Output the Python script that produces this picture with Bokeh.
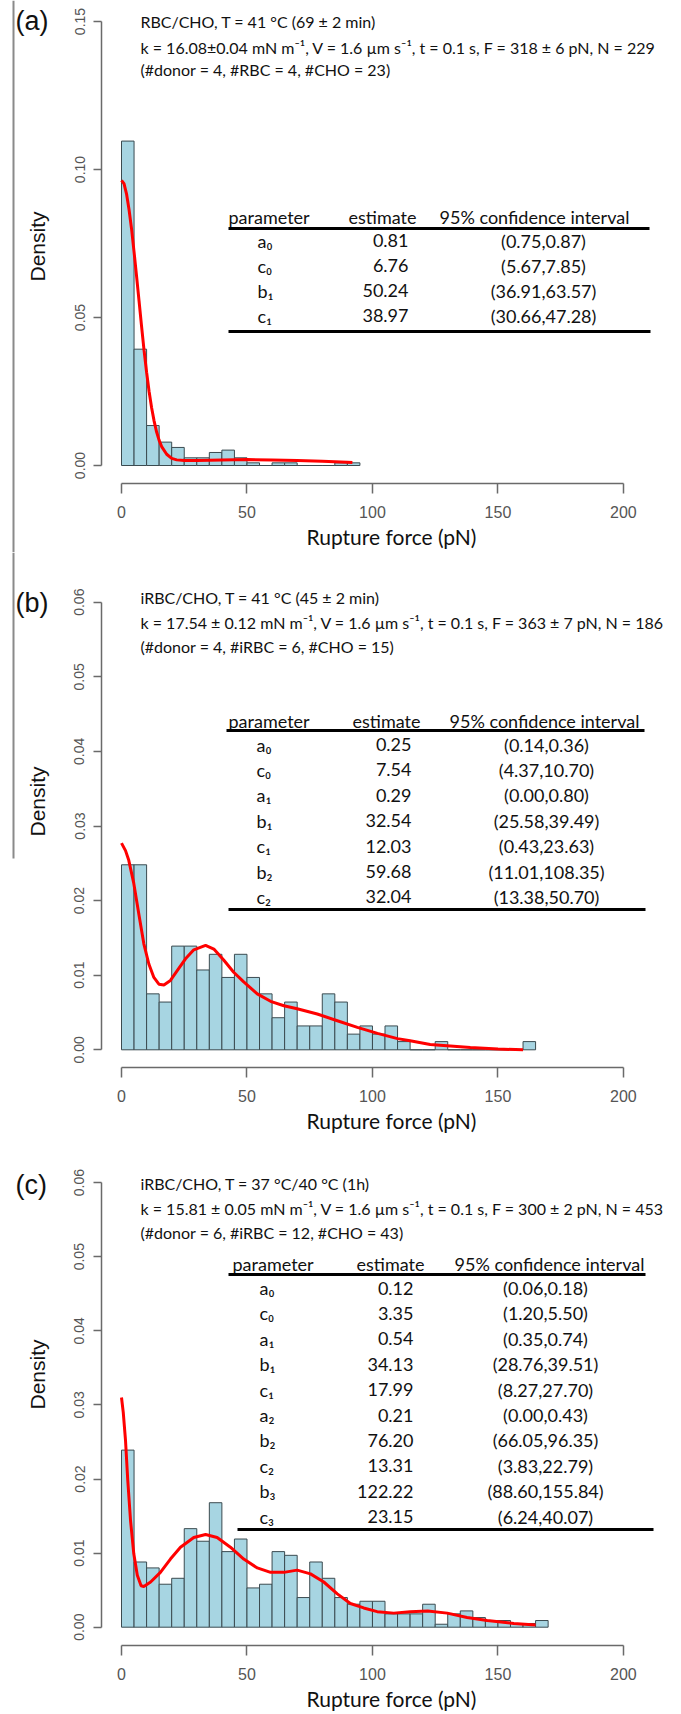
import math
from bokeh.plotting import figure
from bokeh.layouts import column, row
from bokeh.models import Range1d, FixedTicker, NumeralTickFormatter
from bokeh.core.properties import value
from bokeh.embed import file_html
from bokeh.resources import INLINE

# ---------------- data ----------------
bin_width = 5
x_ticks = [0, 50, 100, 150, 200]
y_ticks_a = [0.00, 0.05, 0.10, 0.15]
y_ticks_bc = [0.00, 0.01, 0.02, 0.03, 0.04, 0.05, 0.06]

dens_a = [0.1096, 0.0393, 0.0135, 0.0079, 0.0061, 0.0026, 0.0026, 0.0044, 0.0052, 0.0026,
          0.0009, 0.0, 0.0009, 0.0009, 0.0, 0.0, 0.0, 0.0009, 0.0009]
curve_a_x = [0, 1, 2, 3, 4, 5, 6, 7, 8, 9, 10, 11, 12, 13, 14, 15, 16, 18, 20, 22, 25,
             30, 35, 40, 50, 60, 70, 80, 90, 92]
curve_a_y = [0.0963, 0.0952, 0.0918, 0.0865, 0.0800, 0.0722, 0.0640, 0.0555, 0.0470, 0.0388,
             0.0315, 0.0250, 0.0195, 0.0150, 0.0113, 0.0085, 0.0064, 0.0038, 0.0024, 0.0019,
             0.0017, 0.0017, 0.0018, 0.0019, 0.0020, 0.0019, 0.0017, 0.0014, 0.0011, 0.0010]

dens_b = [0.0248, 0.0248, 0.0075, 0.0064, 0.0139, 0.0139, 0.0107, 0.0128, 0.0097, 0.0128,
          0.0097, 0.0075, 0.0043, 0.0064, 0.0032, 0.0032, 0.0075, 0.0064, 0.0021, 0.0032,
          0.0021, 0.0032, 0.0011, 0.0, 0.0, 0.0011, 0.0, 0.0, 0.0, 0.0, 0.0, 0.0, 0.0011]
curve_b_x = [0, 1.6, 2.9, 4.9, 6.9, 8.9, 10.9, 12.9, 14.9, 16.9, 19.5, 22.2, 25.5, 28.8,
             33.5, 36.8, 40.8, 44.7, 48.7, 54.1, 59.4, 64.7, 70, 78, 86, 94, 102, 110,
             115, 123, 131, 139, 150, 160]
curve_b_y = [0.0277, 0.0267, 0.0254, 0.0223, 0.0182, 0.0142, 0.0115, 0.0097, 0.0088, 0.0087,
             0.0093, 0.0106, 0.0122, 0.0134, 0.0140, 0.0135, 0.0120, 0.0104, 0.0091, 0.0075,
             0.0065, 0.0059, 0.0055, 0.0048, 0.0039, 0.0030, 0.0022, 0.0015, 0.0012, 0.0007,
             0.0005, 0.0003, 0.0001, 0.0000]

dens_c = [0.0239, 0.0088, 0.0080, 0.0058, 0.0066, 0.0133, 0.0116, 0.0168, 0.0102, 0.0119,
          0.0053, 0.0058, 0.0102, 0.0097, 0.0040, 0.0088, 0.0066, 0.0040, 0.0031, 0.0035,
          0.0035, 0.0018, 0.0018, 0.0018, 0.0031, 0.0004, 0.0018, 0.0022, 0.0013, 0.0009,
          0.0009, 0.0005, 0.0005, 0.0009]
curve_c_x = [0, 0.7, 1.6, 2.5, 3.6, 4.9, 6.3, 7.8, 8.9, 11.6, 15.5, 19.5, 23.5, 28.8, 33.5,
             38.1, 43.4, 48.7, 54.1, 59.4, 64.7, 70, 75.3, 80.6, 86, 91.2, 96.5, 101.9,
             108.5, 115, 122, 129.8, 137.7, 145.7, 156.3, 165]
curve_c_y = [0.0310, 0.0290, 0.0252, 0.0198, 0.0144, 0.0099, 0.0070, 0.0056, 0.0055, 0.0061,
             0.0074, 0.0092, 0.0108, 0.0121, 0.0125, 0.0121, 0.0108, 0.0092, 0.0080, 0.0074,
             0.0074, 0.0077, 0.0072, 0.0061, 0.0045, 0.0032, 0.0026, 0.0021, 0.0019, 0.0021,
             0.0022, 0.0019, 0.0013, 0.0009, 0.0005, 0.0003]

title_a = ["RBC/CHO, T = 41 °C (69 ± 2 min)",
           "k = 16.08±0.04 mN m⁻¹, V = 1.6 µm s⁻¹, t = 0.1 s, F = 318 ± 6 pN, N = 229",
           "(#donor = 4, #RBC = 4, #CHO = 23)"]
title_b = ["iRBC/CHO, T = 41 °C (45 ± 2 min)",
           "k = 17.54 ± 0.12 mN m⁻¹, V = 1.6 µm s⁻¹, t = 0.1 s, F = 363 ± 7 pN, N = 186",
           "(#donor = 4, #iRBC = 6, #CHO = 15)"]
title_c = ["iRBC/CHO, T = 37 °C/40 °C (1h)",
           "k = 15.81 ± 0.05 mN m⁻¹, V = 1.6 µm s⁻¹, t = 0.1 s, F = 300 ± 2 pN, N = 453",
           "(#donor = 6, #iRBC = 12, #CHO = 43)"]

table_head = ["parameter", "estimate", "95% confidence interval"]
param_a = ["a₀", "c₀", "b₁", "c₁"]
est_a = ["0.81", "6.76", "50.24", "38.97"]
ci_a = ["(0.75,0.87)", "(5.67,7.85)", "(36.91,63.57)", "(30.66,47.28)"]
param_b = ["a₀", "c₀", "a₁", "b₁", "c₁", "b₂", "c₂"]
est_b = ["0.25", "7.54", "0.29", "32.54", "12.03", "59.68", "32.04"]
ci_b = ["(0.14,0.36)", "(4.37,10.70)", "(0.00,0.80)", "(25.58,39.49)", "(0.43,23.63)",
        "(11.01,108.35)", "(13.38,50.70)"]
param_c = ["a₀", "c₀", "a₁", "b₁", "c₁", "a₂", "b₂", "c₂", "b₃", "c₃"]
est_c = ["0.12", "3.35", "0.54", "34.13", "17.99", "0.21", "76.20", "13.31", "122.22", "23.15"]
ci_c = ["(0.06,0.18)", "(1.20,5.50)", "(0.35,0.74)", "(28.76,39.51)", "(8.27,27.70)",
        "(0.00,0.43)", "(66.05,96.35)", "(3.83,22.79)", "(88.60,155.84)", "(6.24,40.07)"]

# ---------------- layout (page pixels) ----------------
PAGE_W = 681
LEFT_W = 55          # strip left of the y-axis: panel tag, "Density", gray rule
X0_PAGE = 121.0      # page x of 0 pN
PX = 2.5096          # px per pN
FRAME_LEFT = 101     # page x of the y-axis

panels = [
    dict(tag="(a)", top=0, bottom=552, axis=483, y0=465.0, ppu=2960.0, ymax=0.15, yt=y_ticks_a,
         dens=dens_a, cx=curve_a_x, cy=curve_a_y, title=title_a, title_y=[21, 46.5, 69],
         tag_y=20, dens_y=246,
         head_y=216, line1=(228, 649, 228), rows0=240, rowstep=25, line2=(228, 650, 331),
         param=param_a, est=est_a, ci=ci_a, px_param=257, px_est=408, px_ci=543,
         hx=(228, 382, 534), gray=(0, 552)),
    dict(tag="(b)", top=552, bottom=1136, axis=1067, y0=1049.3, ppu=7460.0, ymax=0.06, yt=y_ticks_bc,
         dens=dens_b, cx=curve_b_x, cy=curve_b_y, title=title_b, title_y=[597, 621.5, 646],
         tag_y=602, dens_y=801,
         head_y=720, line1=(226, 644, 730), rows0=744, rowstep=25.4, line2=(228, 645, 909),
         param=param_b, est=est_b, ci=ci_b, px_param=256, px_est=411, px_ci=546,
         hx=(228, 386, 544), gray=(552, 858)),
    dict(tag="(c)", top=1136, bottom=1713, axis=1645, y0=1626.7, ppu=7410.0, ymax=0.06, yt=y_ticks_bc,
         dens=dens_c, cx=curve_c_x, cy=curve_c_y, title=title_c, title_y=[1183, 1207.5, 1232],
         tag_y=1184, dens_y=1374,
         head_y=1263, line1=(228, 645, 1274), rows0=1287.5, rowstep=25.4, line2=(237, 653, 1529),
         param=param_c, est=est_c, ci=ci_c, px_param=259, px_est=413, px_ci=545,
         hx=(232, 390, 549), gray=None),
]

TXT_FONT = "Lato"
AX_FONT = "Liberation Sans"
INK = "#111111"


def no_align(fig):
    if "frame_align" in fig.properties():
        fig.frame_align = False


def make_strip(cfg):
    """Narrow figure to the left of the y-axis (page-pixel coordinates)."""
    top, bottom = cfg["top"], cfg["bottom"]
    H = bottom - top

    def Y(py):
        return bottom - py

    s = figure(width=LEFT_W, height=H, output_backend="svg", toolbar_location=None,
               x_range=Range1d(0, LEFT_W), y_range=Range1d(0, H),
               x_axis_location=None, y_axis_location=None,
               min_border_left=0, min_border_right=0, min_border_top=0, min_border_bottom=0)
    no_align(s)
    s.grid.visible = False
    s.outline_line_color = None
    s.background_fill_color = "white"
    s.border_fill_color = "white"
    if cfg["gray"] is not None:
        g0, g1 = cfg["gray"]
        s.segment(x0=[13], y0=[Y(g0)], x1=[13], y1=[Y(g1)], line_color="#8a8a8a", line_width=2)
    s.text(x=[15], y=[Y(cfg["tag_y"])], text=[cfg["tag"]], text_font=value(AX_FONT),
           text_font_size="27px", text_color=INK, text_align="left", text_baseline="middle")
    s.text(x=[37], y=[Y(cfg["dens_y"])], text=["Density"], angle=math.pi / 2,
           text_font=value(AX_FONT), text_font_size="21px", text_color=INK,
           text_align="center", text_baseline="middle")
    return s


def make_panel(cfg):
    y0, ppu = cfg["y0"], cfg["ppu"]

    def X(px):
        return (px - X0_PAGE) / PX

    def Y(py):
        return (y0 - py) / ppu

    H = cfg["bottom"] - cfg["top"]
    p = figure(width=PAGE_W - LEFT_W, height=H, output_backend="svg", toolbar_location=None,
               x_range=Range1d(X(FRAME_LEFT), X(PAGE_W)),
               y_range=Range1d(Y(cfg["axis"]), Y(cfg["top"])),
               min_border_left=FRAME_LEFT - LEFT_W, min_border_right=0, min_border_top=0,
               min_border_bottom=cfg["bottom"] - cfg["axis"])
    no_align(p)
    p.grid.visible = False
    p.outline_line_color = None
    p.background_fill_color = "white"
    p.border_fill_color = "white"

    # x axis, R style (line only over the tick range)
    ax = p.xaxis[0]
    ax.bounds = (0, 200)
    ax.ticker = FixedTicker(ticks=x_ticks)
    ax.axis_line_color = "#6a6a6a"
    ax.axis_line_width = 1.5
    ax.major_tick_line_color = "#6a6a6a"
    ax.major_tick_line_width = 1.5
    ax.major_tick_out = 10
    ax.major_tick_in = 0
    ax.minor_tick_line_color = None
    ax.major_label_text_font = AX_FONT
    ax.major_label_text_font_size = "16px"
    ax.major_label_text_color = "#555555"
    ax.major_label_standoff = 12
    ax.axis_label = "Rupture force (pN)"
    ax.axis_label_text_font = TXT_FONT
    ax.axis_label_text_font_size = "21px"
    ax.axis_label_text_font_style = "normal"
    ax.axis_label_text_color = INK
    ax.axis_label_standoff = 3

    ay = p.yaxis[0]
    ay.bounds = (0, cfg["ymax"])
    ay.ticker = FixedTicker(ticks=cfg["yt"])
    ay.formatter = NumeralTickFormatter(format="0.00")
    ay.axis_line_color = "#6a6a6a"
    ay.axis_line_width = 1.5
    ay.major_tick_line_color = "#6a6a6a"
    ay.major_tick_line_width = 1.5
    ay.major_tick_out = 8
    ay.major_tick_in = 0
    ay.minor_tick_line_color = None
    ay.major_label_orientation = "vertical"
    ay.major_label_text_font = AX_FONT
    ay.major_label_text_font_size = "14px"
    ay.major_label_text_color = "#555555"
    ay.major_label_standoff = 9

    # histogram
    dens = cfg["dens"]
    left = [i * bin_width for i in range(len(dens))]
    right = [l + bin_width for l in left]
    p.quad(left=left, right=right, bottom=[0] * len(dens), top=dens,
           fill_color="#a7d5e2", line_color="#3b4b50", line_width=1)

    # fitted curve
    p.line(cfg["cx"], cfg["cy"], line_color="#ff0000", line_width=3)

    # header texts
    p.text(x=[X(140)] * 3, y=[Y(v) for v in cfg["title_y"]], text=cfg["title"],
           text_font=value(TXT_FONT), text_font_size="16px", text_color=INK,
           text_baseline="middle", text_align="left")

    # table
    hx = cfg["hx"]
    p.text(x=[X(hx[0])], y=[Y(cfg["head_y"])], text=[table_head[0]], text_font=value(TXT_FONT),
           text_font_size="18px", text_color=INK, text_baseline="middle", text_align="left")
    p.text(x=[X(hx[1]), X(hx[2])], y=[Y(cfg["head_y"])] * 2, text=table_head[1:],
           text_font=value(TXT_FONT), text_font_size="18px", text_color=INK,
           text_baseline="middle", text_align="center")
    l1, l2 = cfg["line1"], cfg["line2"]
    p.segment(x0=[X(l1[0]), X(l2[0])], y0=[Y(l1[2]), Y(l2[2])],
              x1=[X(l1[1]), X(l2[1])], y1=[Y(l1[2]), Y(l2[2])],
              line_color="black", line_width=3)
    n = len(cfg["param"])
    ys = [Y(cfg["rows0"] + i * cfg["rowstep"]) for i in range(n)]
    p.text(x=[X(cfg["px_param"])] * n, y=ys, text=cfg["param"], text_font=value(TXT_FONT),
           text_font_size="18px", text_color=INK, text_baseline="middle", text_align="left")
    p.text(x=[X(cfg["px_est"])] * n, y=ys, text=cfg["est"], text_font=value(TXT_FONT),
           text_font_size="18px", text_color=INK, text_baseline="middle", text_align="right")
    p.text(x=[X(cfg["px_ci"])] * n, y=ys, text=cfg["ci"], text_font=value(TXT_FONT),
           text_font_size="18px", text_color=INK, text_baseline="middle", text_align="center")
    return p


rows = [row(make_strip(c), make_panel(c), spacing=0) for c in panels]
layout = column(*rows, spacing=0)
open("out.html", "w").write(file_html(layout, INLINE))
